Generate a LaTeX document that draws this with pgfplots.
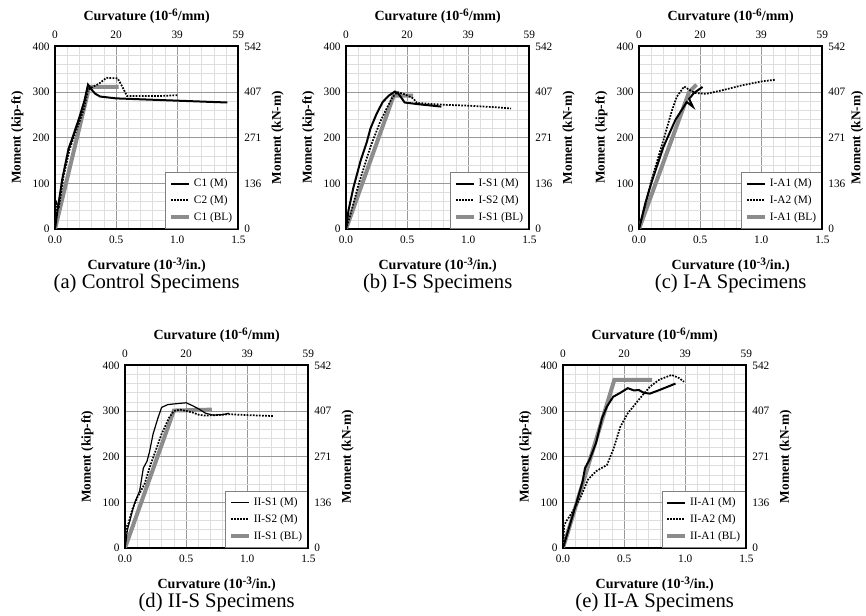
\documentclass[border=0pt]{standalone}
\usepackage{pgfplots}
\pgfplotsset{compat=1.18}
\usepackage{fontspec}
\setmainfont{Liberation Serif}
\newcommand\supx[1]{\raisebox{0.55ex}{\fontsize{8.5}{9}\selectfont #1}}

\pgfplotsset{
  base/.style={scale only axis, width=137.5pt, height=137pt,
    xmin=0,xmax=1.5,ymin=0,ymax=400,
    /pgf/number format/assume math mode=true,
    tick label style={font=\fontsize{8.5}{10}\selectfont},
    ylabel style={font=\bfseries\fontsize{10}{12}\selectfont},
    xlabel style={font=\bfseries\fontsize{10.5}{12}\selectfont},
    major tick length=0pt, minor tick length=0pt,
    xtick={0,0.5,1,1.5}, ytick={0,100,200,300,400}},
  main/.style={base, anchor=south west,
    xticklabels={0.0,0.5,1.0,1.5},
    minor x tick num=4, minor y tick num=4, grid=both,
    major grid style={black!40, line width=0.6pt},
    minor grid style={black!13, line width=0.45pt},
    axis line style={line width=1.3pt},
    yticklabel style={xshift=-0.5pt}, xticklabel style={yshift=-2pt},
    xlabel style={at={(axis description cs:0.5,-0.197)}, anchor=center},
    ylabel style={at={(axis description cs:-0.205,0.5)}, anchor=center},
    xlabel={Curvature (10\supx{-3}/in.)}, ylabel={Moment (kip-ft)},
    legend style={at={(1,0)},anchor=south east, font=\fontsize{8.5}{10}\selectfont,
      draw=black!50, line width=0.4pt, inner xsep=2.5pt, inner ysep=3pt, row sep=1.2pt},
    legend cell align=left,
    legend image code/.code={\draw[##1] (0cm,0cm) -- (0.48cm,0cm);}},
  sec/.style={base, anchor=south west, axis x line*=top, axis y line*=right,
    xticklabels={0,20,39,59}, yticklabels={0,136,271,407,542},
    yticklabel style={xshift=1pt}, xticklabel style={yshift=2pt},
    xlabel style={at={(axis description cs:0.5,1.165)}, anchor=center},
    ylabel style={at={(axis description cs:1.215,0.5)}, anchor=center},
    axis line style={line width=1.3pt},
    xlabel={Curvature (10\supx{-6}/mm)}, ylabel={Moment (kN-m)}},
  sM/.style={black, line width=1.5pt},
  dM/.style={black, densely dotted, line width=1.3pt},
  bl/.style={black!45, line width=3pt},
}
\newcommand\pcap[2]{\node[font=\fontsize{15.5}{17}\selectfont] at ([yshift=-41pt]#1.south) {#2};}

\begin{document}
\begin{tikzpicture}
\path[use as bounding box] (0,0) rectangle (649.5pt,462pt);

% (a)
\begin{axis}[main, name=a, at={(41.25pt,290.25pt)}]
\addplot[bl, forget plot] coordinates {(0,0)(0.28,311)(0.52,311)};
\addplot[sM] coordinates {(0,0)(0.02,40)(0.06,110)(0.11,175)(0.15,205)(0.2,245)(0.24,280)(0.27,316)(0.3,305)(0.33,296)(0.37,290)(0.5,286)(0.7,284)(1.0,281)(1.2,279)(1.41,277)};
\addplot[dM] coordinates {(0,0)(0.015,55)(0.03,45)(0.07,115)(0.12,175)(0.18,220)(0.24,265)(0.27,305)(0.3,310)(0.36,318)(0.42,331)(0.51,330)(0.53,322)(0.59,291)(0.7,291)(0.85,291)(1.0,293)};
\addlegendimage{bl}
\legend{C1 (M),C2 (M),C1 (BL)}
\end{axis}
\begin{axis}[sec, at={(41.25pt,290.25pt)}]
\end{axis}
\pcap{a}{(a) Control Specimens}

% (b)
\begin{axis}[main, name=b, at={(259.5pt,290.25pt)}]
\addplot[bl, forget plot] coordinates {(0,0)(0.39,292)(0.55,292)};
\addplot[sM] coordinates {(0,0)(0.02,40)(0.06,90)(0.12,150)(0.17,190)(0.2,220)(0.25,252)(0.3,278)(0.35,292)(0.4,301)(0.43,296)(0.48,277)(0.6,273)(0.78,268)};
\addplot[dM] coordinates {(0,0)(0.03,25)(0.1,95)(0.2,180)(0.28,235)(0.34,268)(0.38,288)(0.42,300)(0.47,296)(0.52,290)(0.55,286)(0.58,276)(0.8,272)(1.0,270)(1.2,267)(1.35,264)};
\addlegendimage{bl}
\legend{I-S1 (M),I-S2 (M),I-S1 (BL)}
\end{axis}
\begin{axis}[sec, at={(259.5pt,290.25pt)}]
\end{axis}
\pcap{b}{(b) I-S Specimens}

% (c)
\begin{axis}[main, name=c, at={(479.25pt,290.25pt)}]
\addplot[bl, forget plot] coordinates {(0,0)(0.41,300)(0.47,316)};
\addplot[sM] coordinates {(0,0)(0.05,55)(0.1,100)(0.2,180)(0.3,240)(0.36,265)(0.39,278)(0.44,268)(0.41,285)(0.45,298)(0.52,311)};
\addplot[dM] coordinates {(0,0)(0.05,50)(0.1,105)(0.2,195)(0.27,260)(0.31,290)(0.37,312)(0.41,305)(0.46,298)(0.55,296)(0.7,305)(0.85,315)(1.0,323)(1.12,327)};
\addlegendimage{bl}
\legend{I-A1 (M),I-A2 (M),I-A1 (BL)}
\end{axis}
\begin{axis}[sec, at={(479.25pt,290.25pt)}, ylabel style={at={(axis description cs:1.19,0.5)}}]
\end{axis}
\pcap{c}{(c) I-A Specimens}

% (d)
\begin{axis}[main, name=d, at={(93.75pt,51pt)}]
\addplot[bl, forget plot] coordinates {(0,0)(0.4,301)(0.71,303)};
\addplot[black, line width=0.9pt] coordinates {(0,0)(0.02,40)(0.05,70)(0.08,100)(0.12,125)(0.15,175)(0.18,190)(0.2,210)(0.23,250)(0.27,285)(0.3,308)(0.35,314)(0.42,316)(0.5,318)(0.55,312)(0.6,305)(0.66,295)(0.72,291)(0.8,292)(0.85,295)};
\addplot[dM] coordinates {(0,0)(0.01,45)(0.03,55)(0.06,85)(0.1,110)(0.16,140)(0.2,175)(0.3,250)(0.36,285)(0.4,300)(0.45,303)(0.55,297)(0.6,292)(0.65,290)(0.75,291)(0.85,293)(1.0,291)(1.21,289)};
\addlegendimage{bl}
\legend{II-S1 (M),II-S2 (M),II-S1 (BL)}
\end{axis}
\begin{axis}[sec, at={(93.75pt,51pt)}]
\end{axis}
\pcap{d}{(d) II-S Specimens}

% (e)
\begin{axis}[main, name=e, at={(422.25pt,51pt)}]
\addplot[bl, forget plot] coordinates {(0,0)(0.42,368)(0.73,368)};
\addplot[sM] coordinates {(0,0)(0.05,45)(0.1,90)(0.16,145)(0.18,175)(0.22,195)(0.27,230)(0.32,285)(0.36,310)(0.41,331)(0.47,340)(0.53,350)(0.58,345)(0.62,346)(0.66,340)(0.71,338)(0.78,345)(0.92,360)};
\addplot[dM] coordinates {(0,0)(0.01,50)(0.03,60)(0.07,76)(0.14,109)(0.205,150)(0.27,168)(0.36,182)(0.41,215)(0.47,266)(0.53,295)(0.63,328)(0.71,353)(0.79,369)(0.89,379)(0.95,372)(0.99,364)};
\addlegendimage{bl}
\legend{II-A1 (M),II-A2 (M),II-A1 (BL)}
\end{axis}
\begin{axis}[sec, at={(422.25pt,51pt)}]
\end{axis}
\pcap{e}{(e) II-A Specimens}

\end{tikzpicture}
\end{document}
